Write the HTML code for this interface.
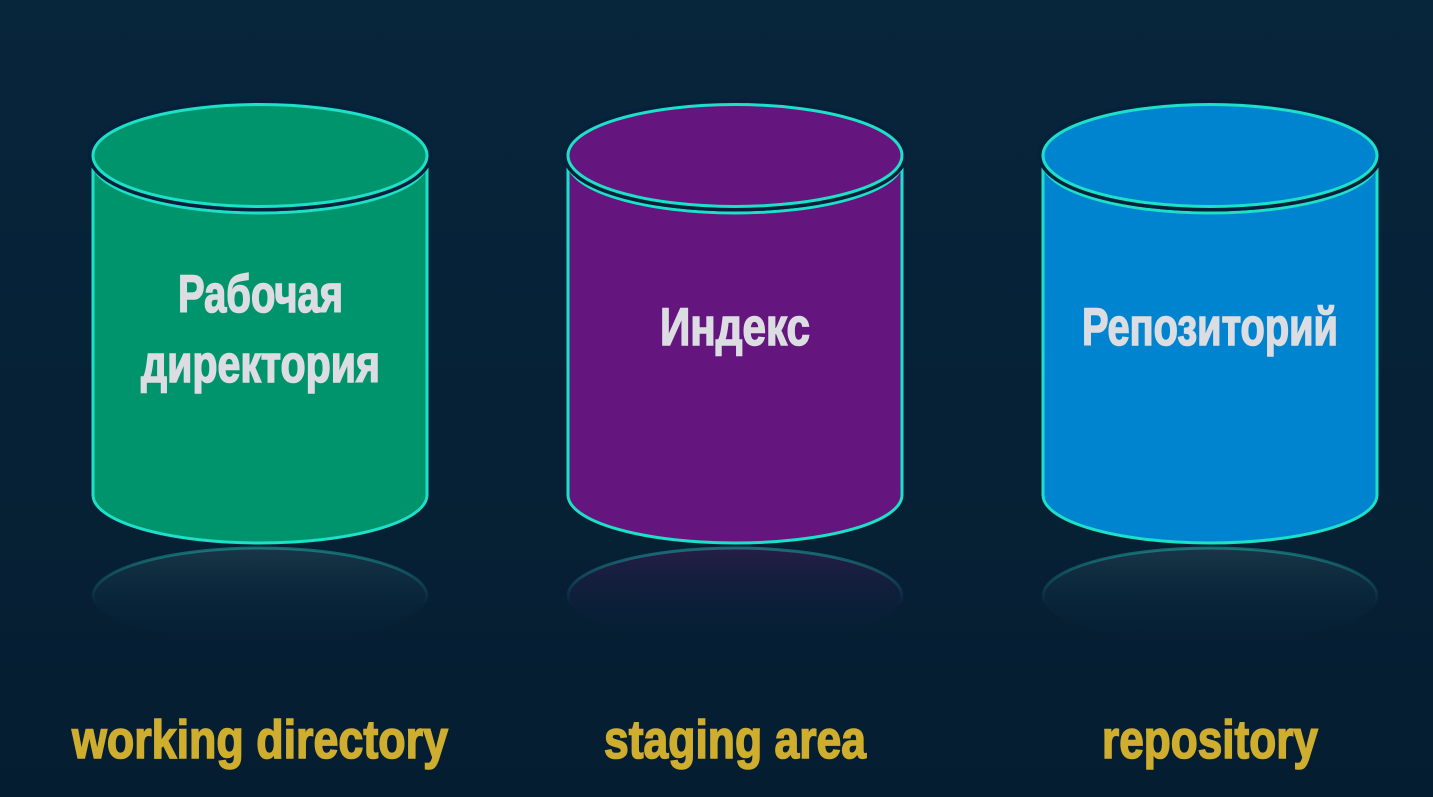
<!DOCTYPE html>
<html><head><meta charset="utf-8"><style>
html,body{margin:0;padding:0;background:#06243a;}
svg{display:block}
</style></head><body>
<svg width="1433" height="797" viewBox="0 0 1433 797" xmlns="http://www.w3.org/2000/svg">
<defs>
<linearGradient id="bg" x1="0" y1="0" x2="0" y2="1">
<stop offset="0" stop-color="#07253b"/><stop offset="1" stop-color="#051d31"/>
</linearGradient>
<linearGradient id="refl" x1="0" y1="0" x2="0" y2="1">
<stop offset="0" stop-color="#1a3a4a" stop-opacity="0.9"/><stop offset="1" stop-color="#06203a" stop-opacity="0"/>
</linearGradient>
<linearGradient id="reflp" x1="0" y1="0" x2="0" y2="1">
<stop offset="0" stop-color="#2a1d48" stop-opacity="0.9"/><stop offset="1" stop-color="#06203a" stop-opacity="0"/>
</linearGradient>
<linearGradient id="fadeS" x1="0" y1="0" x2="0" y2="1">
<stop offset="0" stop-color="#1fb8b0" stop-opacity="0.5"/><stop offset="0.6" stop-color="#1fb8b0" stop-opacity="0"/>
</linearGradient>
</defs>
<rect width="1433" height="797" fill="url(#bg)"/>

<g>
<ellipse cx="260" cy="596" rx="167" ry="48" fill="url(#refl)" stroke="url(#fadeS)" stroke-width="3"/>
<path d="M93,162 L93,495 A167,48 0 0 0 427,495 L427,162 A167,51 0 0 1 93,162 Z" fill="#00946c" stroke="#1de0c8" stroke-width="3"/>
<ellipse cx="260" cy="155.5" rx="167" ry="51" fill="#00946c" stroke="#05203a" stroke-width="10"/>
<ellipse cx="260" cy="155.5" rx="167" ry="51" fill="#00946c" stroke="#1de0c8" stroke-width="3"/>
</g>
<g>
<ellipse cx="735" cy="596" rx="167" ry="48" fill="url(#reflp)" stroke="url(#fadeS)" stroke-width="3"/>
<path d="M568,162 L568,495 A167,48 0 0 0 902,495 L902,162 A167,51 0 0 1 568,162 Z" fill="#65157e" stroke="#1de0c8" stroke-width="3"/>
<ellipse cx="735" cy="155.5" rx="167" ry="51" fill="#65157e" stroke="#05203a" stroke-width="10"/>
<ellipse cx="735" cy="155.5" rx="167" ry="51" fill="#65157e" stroke="#1de0c8" stroke-width="3"/>
</g>
<g>
<ellipse cx="1210" cy="596" rx="167" ry="48" fill="url(#refl)" stroke="url(#fadeS)" stroke-width="3"/>
<path d="M1043,162 L1043,495 A167,48 0 0 0 1377,495 L1377,162 A167,51 0 0 1 1043,162 Z" fill="#0084d0" stroke="#1de0c8" stroke-width="3"/>
<ellipse cx="1210" cy="155.5" rx="167" ry="51" fill="#0084d0" stroke="#05203a" stroke-width="10"/>
<ellipse cx="1210" cy="155.5" rx="167" ry="51" fill="#0084d0" stroke="#1de0c8" stroke-width="3"/>
</g>

<g font-family="'Liberation Sans Narrow','Liberation Sans',sans-serif" font-weight="bold" fill="#dcdde2" stroke="#dcdde2" stroke-width="1.6" font-size="53">
<text x="178" y="312" textLength="165" lengthAdjust="spacingAndGlyphs">Рабочая</text>
<text x="141" y="382" textLength="239" lengthAdjust="spacingAndGlyphs">директория</text>
<text x="660" y="345" textLength="150" lengthAdjust="spacingAndGlyphs">Индекс</text>
<text x="1082" y="345" textLength="256" lengthAdjust="spacingAndGlyphs">Репозиторий</text>
</g>
<g font-family="'Liberation Sans Narrow','Liberation Sans',sans-serif" font-weight="bold" fill="#cfae2f" stroke="#cfae2f" stroke-width="1.6" font-size="54">
<text x="72" y="758" textLength="376" lengthAdjust="spacingAndGlyphs">working directory</text>
<text x="604" y="758" textLength="262" lengthAdjust="spacingAndGlyphs">staging area</text>
<text x="1102" y="758" textLength="216" lengthAdjust="spacingAndGlyphs">repository</text>
</g>
</svg>
</body></html>
